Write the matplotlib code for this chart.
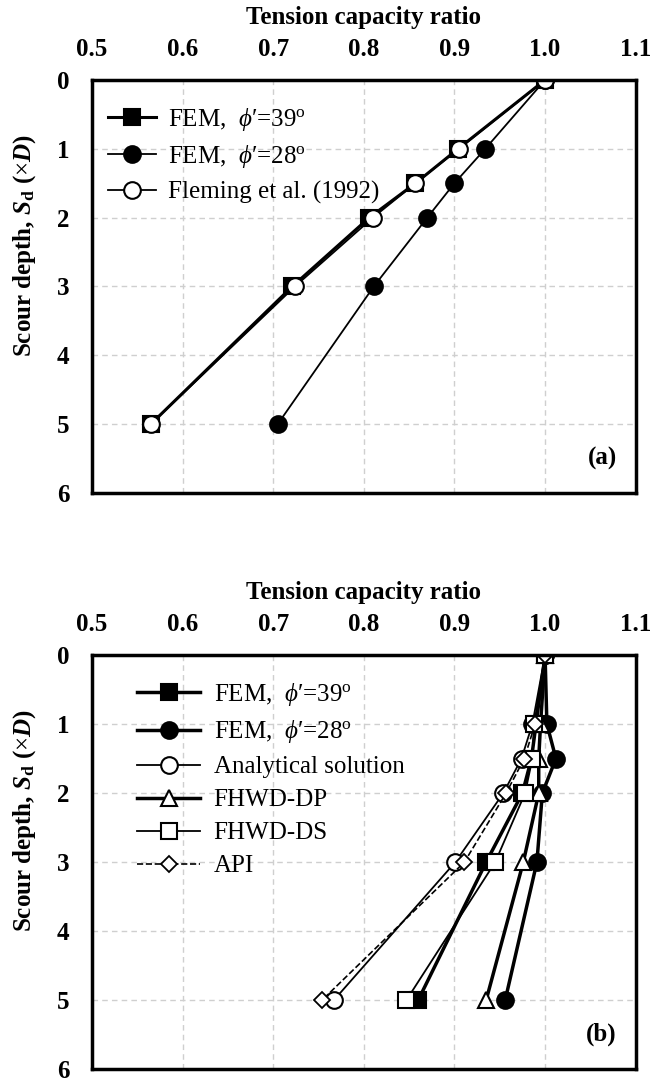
import matplotlib
matplotlib.use('Agg')
import matplotlib.pyplot as plt

plt.rcParams['font.family'] = ['Liberation Serif', 'DejaVu Serif']
plt.rcParams['mathtext.fontset'] = 'custom'
plt.rcParams['mathtext.rm'] = 'Liberation Serif'
plt.rcParams['mathtext.it'] = 'Liberation Serif:italic'
plt.rcParams['mathtext.bf'] = 'Liberation Serif:bold'
plt.rcParams['mathtext.bfit'] = 'Liberation Serif:italic:bold'

# Data
sd = [0, 1, 1.5, 2, 3, 5]

# (a)
a_fem39 = [1.0, 0.904, 0.857, 0.806, 0.721, 0.565]
a_fem28 = [1.0, 0.934, 0.900, 0.870, 0.811, 0.705]
a_fleming = [1.0, 0.905, 0.857, 0.810, 0.724, 0.565]

# (b)
b_fem39 = [1.0, 0.990, 0.985, 0.975, 0.935, 0.860]
b_fem28 = [1.0, 1.002, 1.012, 0.997, 0.991, 0.956]
b_analytical = [1.0, 0.986, 0.974, 0.954, 0.901, 0.767]
b_dp = [1.0, 0.995, 0.993, 0.993, 0.976, 0.935]
b_ds = [1.0, 0.988, 0.986, 0.978, 0.945, 0.847]
b_api = [1.0, 0.989, 0.977, 0.957, 0.911, 0.754]

xticks = [0.5, 0.6, 0.7, 0.8, 0.9, 1.0, 1.1]
yticks = [0, 1, 2, 3, 4, 5, 6]

lab39 = "FEM,  $\\mathit{\\phi}$\u2032=39$^{\\mathrm{o}}$"
lab28 = "FEM,  $\\mathit{\\phi}$\u2032=28$^{\\mathrm{o}}$"

fs = 18


def style(ax, tag):
    ax.set_xlim(0.5, 1.1)
    ax.set_ylim(6, 0)
    ax.set_xticks(xticks)
    ax.set_xticklabels(['%.1f' % v for v in xticks])
    ax.set_yticks(yticks)
    ax.xaxis.tick_top()
    ax.xaxis.set_label_position('top')
    ax.tick_params(length=0, labelsize=fs)
    ax.tick_params(axis='x', pad=14)
    ax.tick_params(axis='y', pad=16)
    for t in ax.get_xticklabels() + ax.get_yticklabels():
        t.set_fontweight('bold')
    ax.grid(True, color='#cfcfcf', ls=(0, (4, 3)), lw=1)
    ax.set_axisbelow(True)
    for s in ax.spines.values():
        s.set_linewidth(2.5)
    ax.set_xlabel('Tension capacity ratio', fontsize=fs, fontweight='bold', labelpad=10)
    ax.set_ylabel(r'Scour depth, $\mathbfit{S}_{\mathbf{d}}$ ($\times\mathbfit{D}$)',
                  fontsize=fs, fontweight='bold')
    ax.yaxis.set_label_coords(-0.10, 0.6)
    ax.text(0.965, 0.055, tag, transform=ax.transAxes, ha='right', va='bottom',
            fontsize=fs, fontweight='bold')


fig = plt.figure(figsize=(6.52, 10.81), dpi=100)

# Panel (a)
ax = fig.add_axes([0.141, 0.544, 0.834, 0.382])
ax.plot(a_fem39, sd, '-s', c='k', lw=2.2, ms=11.5, mfc='k', mec='k', mew=1.5, label=lab39)
ax.plot(a_fem28, sd, '-o', c='k', lw=1.3, ms=12, mfc='k', mec='k', mew=1.5, label=lab28)
ax.plot(a_fleming, sd, '-o', c='k', lw=1.3, ms=12, mfc='w', mec='k', mew=1.5,
        label='Fleming et al. (1992)')
style(ax, '(a)')
ax.legend(loc='upper left', bbox_to_anchor=(0.012, 0.962), frameon=False, fontsize=fs,
          handlelength=1.9, handletextpad=0.5, labelspacing=0.42, borderaxespad=0,
          numpoints=1)

# Panel (b)
ax = fig.add_axes([0.141, 0.011, 0.834, 0.383])
ax.plot(b_fem39, sd, '-s', c='k', lw=2.5, ms=11.5, mfc='k', mec='k', mew=1.5, label=lab39)
ax.plot(b_fem28, sd, '-o', c='k', lw=2.5, ms=12, mfc='k', mec='k', mew=1.5, label=lab28)
ax.plot(b_analytical, sd, '-o', c='k', lw=1.3, ms=12, mfc='w', mec='k', mew=1.5,
        label='Analytical solution')
ax.plot(b_dp, sd, '-^', c='k', lw=2.5, ms=11, mfc='w', mec='k', mew=1.5, label='FHWD-DP')
ax.plot(b_ds, sd, '-s', c='k', lw=1.3, ms=12, mfc='w', mec='k', mew=1.5, label='FHWD-DS')
ax.plot(b_api, sd, '--D', c='k', lw=1.2, ms=8.5, mfc='w', mec='k', mew=1.3, label='API')
style(ax, '(b)')
ax.legend(loc='upper left', bbox_to_anchor=(0.065, 0.962), frameon=False, fontsize=fs,
          handlelength=2.5, handletextpad=0.55, labelspacing=0.42, borderaxespad=0,
          numpoints=1)

fig.savefig('out.png', dpi=100)
plt.close()
